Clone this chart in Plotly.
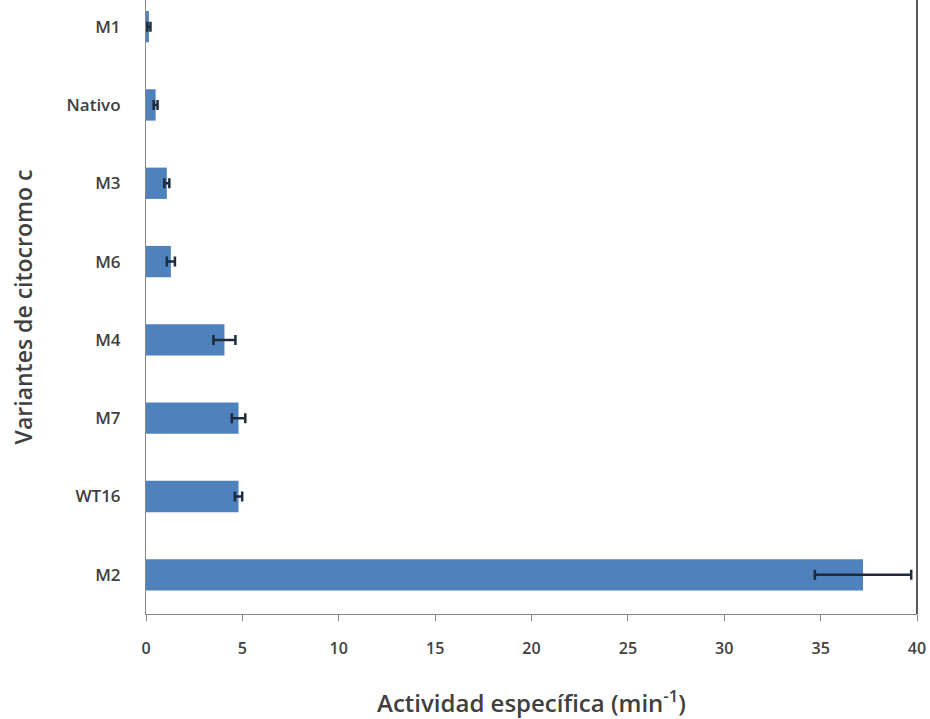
import plotly.graph_objects as go

categories = ["M2", "WT16", "M7", "M4", "M6", "M3", "Nativo", "M1"]
values = [37.2, 4.8, 4.8, 4.07, 1.29, 1.08, 0.5, 0.15]
errors = [2.5, 0.19, 0.35, 0.57, 0.21, 0.13, 0.1, 0.08]
x_ticks = [0, 5, 10, 15, 20, 25, 30, 35, 40]

font_family = "Open Sans"
text_color = "#404040"

fig = go.Figure(
    go.Bar(
        y=categories,
        x=values,
        orientation="h",
        marker=dict(color="#4F81BD", line=dict(width=0)),
        error_x=dict(type="data", array=errors, visible=True,
                     color="#1F2A3A", thickness=2.5, width=5),
        width=0.4,
    )
)

fig.update_layout(
    width=930,
    height=719,
    margin=dict(l=146, r=13, t=0, b=105, autoexpand=False),
    paper_bgcolor="white",
    plot_bgcolor="white",
    showlegend=False,
    font=dict(family=font_family, color=text_color),
    xaxis=dict(
        range=[0, 40],
        tickvals=x_ticks,
        automargin=False,
        showgrid=False,
        zeroline=False,
        showline=True,
        linecolor="#888888",
        linewidth=1,
        ticks="outside",
        ticklen=6,
        tickcolor="#888888",
        ticklabelstandoff=14,
        tickfont=dict(size=16, color=text_color, weight=600),
        title=dict(text="Actividad específica (min<sup>-1</sup>)",
                   font=dict(size=24, color=text_color, weight=600), standoff=39),
    ),
    yaxis=dict(
        categoryorder="array",
        categoryarray=categories,
        range=[-0.5, 7.34],
        automargin=False,
        showgrid=False,
        zeroline=False,
        showline=True,
        linecolor="#888888",
        linewidth=1,
        ticks="",
        ticklabelstandoff=21,
        tickfont=dict(size=17, color=text_color, weight=600),
        title=dict(text="Variantes de citocromo c",
                   font=dict(size=23, color=text_color, weight=600), standoff=27),
    ),
    shapes=[dict(type="line", xref="paper", yref="paper", x0=1, x1=1, y0=0, y1=1,
                 line=dict(color="#222222", width=1.5))],
)

fig.write_html(
    "out.html",
    config={"displayModeBar": False},
    post_script="document.body.style.margin='0';document.body.style.overflow='hidden';",
)
